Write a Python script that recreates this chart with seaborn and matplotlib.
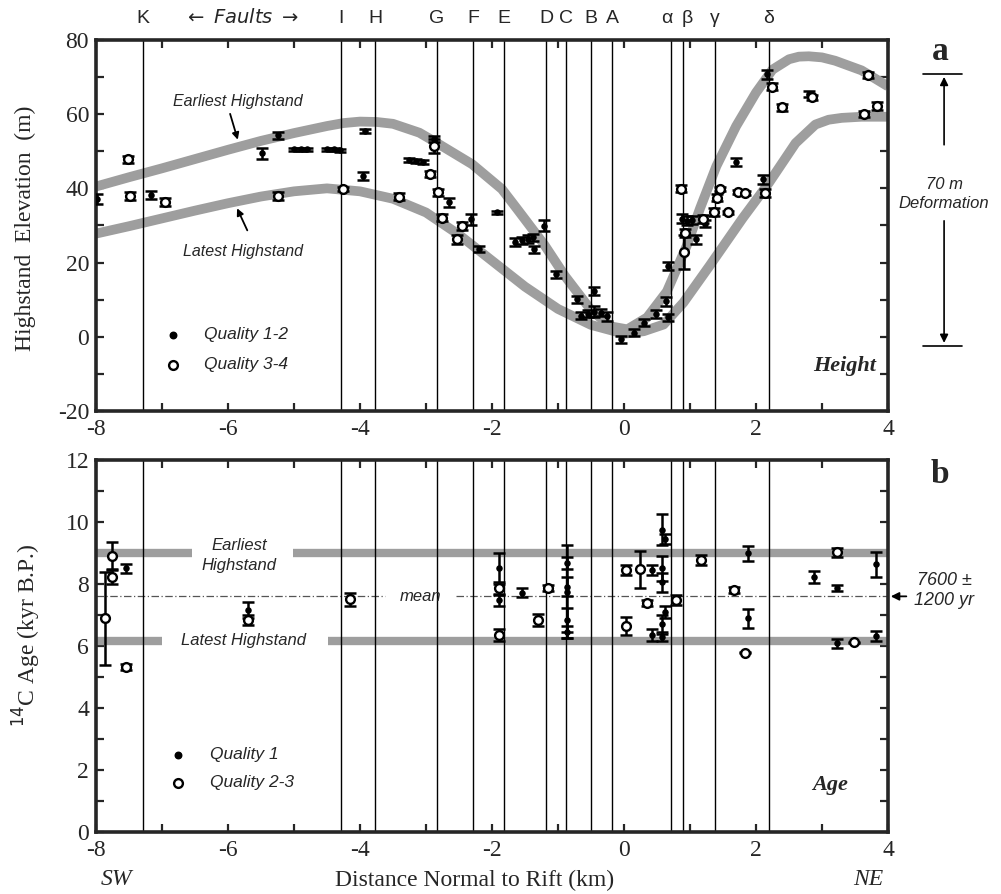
import matplotlib
matplotlib.use("Agg")
import matplotlib.pyplot as plt
from matplotlib.ticker import MultipleLocator
import seaborn as sns
import pandas as pd

# fault traces (km from rift axis) and their names along the top
fault_km = [-7.29, -4.29, -3.77, -2.84, -2.29, -1.82, -1.18, -0.88, -0.50, -0.18, 0.71, 0.90, 1.38, 2.19]
fault_names = ["K", "I", "H", "G", "F", "E", "D", "C", "B", "A", "α", "β", "γ", "δ"]

# highstand envelopes (panel a)
earliest_x = [-8.0, -7.5, -7.0, -6.5, -6.0, -5.5, -5.0, -4.5, -4.25, -4.0, -3.75, -3.5, -3.1, -2.85, -2.3,
              -1.85, -1.6, -1.2, -0.9, -0.5, -0.2, 0.05, 0.35, 0.65, 0.95, 1.15, 1.4, 1.7, 2.0, 2.25,
              2.5, 2.65, 2.8, 3.0, 3.2, 3.6, 4.0]
earliest_y = [40.5, 43.0, 45.4, 47.9, 50.4, 52.8, 54.9, 56.8, 57.6, 58.0, 57.9, 57.4, 55.0, 52.4, 46.5,
              39.8, 34.0, 24.6, 16.5, 7.2, 2.8, 2.0, 5.2, 12.2, 24.5, 34.5, 46.0, 56.8, 65.8, 72.0,
              74.8, 75.5, 75.6, 75.3, 74.4, 71.8, 67.5]
latest_x = [-8.0, -7.5, -7.0, -6.5, -6.0, -5.5, -5.0, -4.5, -4.0, -3.5, -3.0, -2.5, -2.0, -1.5, -1.0,
            -0.5, 0.0, 0.3, 0.6, 0.9, 1.3, 1.8, 2.2, 2.6, 2.9, 3.1, 3.3, 3.6, 4.0]
latest_y = [27.8, 29.8, 31.9, 34.0, 36.0, 37.8, 39.2, 40.0, 39.2, 37.2, 33.5, 27.5, 20.5, 13.5, 7.5,
            3.2, 0.8, 1.5, 3.3, 9.2, 19.2, 32.0, 41.6, 52.2, 57.2, 58.5, 59.0, 59.3, 59.3]

# panel a: highstand elevations (m)
a_q12_km = [-7.98, -7.16, -5.48, -5.24, -5.0, -4.9, -4.8, -4.5, -4.4, -4.3, -3.96, -3.92, -3.25, -3.15, -3.05,
            -2.88, -2.65, -2.32, -2.2, -1.92, -1.65, -1.55, -1.45, -1.38, -1.36, -1.21, -1.03, -0.71, -0.45,
            -0.65, -0.55, -0.45, -0.35, -0.25, -0.05, 0.15, 0.3, 0.48, 0.63, 0.66, 0.66, 0.88, 0.95, 1.03,
            1.09, 1.22, 1.70, 2.11, 2.17, 2.80]
a_q12_m = [37.2, 38.2, 49.4, 54.3, 50.5, 50.5, 50.5, 50.5, 50.5, 50.3, 43.3, 55.5, 47.6, 47.4, 47.2,
           53.3, 36.2, 31.7, 23.6, 33.5, 25.6, 26.0, 26.3, 26.8, 23.6, 29.9, 16.8, 10.1, 12.3,
           5.7, 6.2, 6.8, 6.5, 5.5, -0.7, 1.1, 3.8, 6.1, 9.6, 19.1, 5.2, 31.8, 31.3, 31.5,
           26.3, 30.5, 47.1, 42.5, 70.8, 65.4]
a_q12_err = [1.3, 1.2, 1.5, 1.0, 0.4, 0.4, 0.4, 0.4, 0.4, 0.4, 1.0, 0.5, 0.5, 0.5, 0.5,
             0.8, 1.2, 1.5, 0.8, 0.5, 1.0, 1.0, 1.0, 1.0, 1.0, 1.5, 1.0, 1.0, 1.0,
             1.0, 1.0, 1.5, 1.0, 1.2, 1.0, 1.0, 1.0, 1.0, 1.2, 1.0, 1.0, 1.2, 1.2, 1.0,
             1.2, 1.0, 1.2, 1.2, 1.2, 0.8]
a_q34_km = [-7.52, -7.49, -6.95, -5.24, -4.26, -3.41, -2.88, -2.94, -2.82, -2.75, -2.53, -2.45,
            0.87, 0.92, 0.91, 1.19, 1.36, 1.41, 1.46, 1.57, 1.72, 1.84, 2.14, 2.25, 2.40, 2.85, 3.70, 3.64, 3.84]
a_q34_m = [47.8, 37.9, 36.3, 37.9, 39.8, 37.8, 51.4, 43.8, 38.9, 32.1, 26.3, 29.9,
           39.9, 28.0, 22.9, 31.7, 33.6, 37.5, 39.8, 33.5, 39.0, 38.7, 38.7, 67.4, 61.8, 64.5, 70.6, 60.0, 62.2]
a_q34_err = [1.0, 1.0, 1.0, 1.0, 0.5, 1.0, 2.0, 0.8, 1.0, 1.0, 1.2, 1.0,
             1.0, 1.0, 4.5, 1.0, 1.0, 1.0, 0.5, 0.5, 0.5, 0.5, 1.0, 1.0, 1.0, 0.8, 0.8, 0.8, 1.0]

# panel b: 14C ages (kyr B.P.)
b_q1_km = [-7.55, -5.70, -1.89, -1.89, -1.54, -0.86, -0.86, -0.86, -0.86, -0.86, 0.43, 0.42,
           0.58, 0.62, 0.58, 0.58, 0.62, 0.58, 0.58, 1.88, 1.88, 2.88, 3.23, 3.23, 3.82, 3.82]
b_q1_age = [8.5, 7.16, 8.5, 7.48, 7.72, 8.67, 7.91, 7.75, 6.84, 6.46, 8.45, 6.35,
            9.75, 9.45, 8.5, 8.05, 7.1, 6.7, 6.3, 8.99, 6.89, 8.22, 7.86, 6.09, 8.63, 6.32]
b_q1_err = [0.15, 0.25, 0.5, 0.2, 0.15, 0.2, 0.3, 1.5, 0.4, 0.2, 0.15, 0.2,
            0.5, 0.15, 0.4, 0.3, 0.2, 0.3, 0.15, 0.25, 0.3, 0.2, 0.1, 0.15, 0.4, 0.15]
b_q23_km = [-7.75, -7.75, -7.86, -7.55, -5.70, -4.15, -1.89, -1.89, -1.31, -1.15, 0.03, 0.03,
            0.25, 0.35, 0.79, 1.16, 1.67, 1.84, 3.23, 3.48]
b_q23_age = [8.9, 8.24, 6.9, 5.33, 6.84, 7.5, 7.86, 6.35, 6.84, 7.86, 8.45, 6.65,
             8.47, 7.38, 7.48, 8.77, 7.81, 5.78, 9.02, 6.12]
b_q23_err = [0.45, 0.25, 1.5, 0.1, 0.15, 0.2, 0.2, 0.2, 0.2, 0.1, 0.15, 0.3,
             0.6, 0.1, 0.15, 0.15, 0.1, 0.02, 0.15, 0.02]

age_earliest = 9.0
age_latest = 6.15
age_mean = 7.6

sns.set_style("ticks")
SERIF = ["Liberation Serif", "DejaVu Serif"]
SANS = ["Liberation Sans", "DejaVu Sans"]
plt.rcParams["font.family"] = SERIF
plt.rcParams["axes.unicode_minus"] = False

BAND = "#9e9e9e"

fig = plt.figure(figsize=(10.01, 8.94), dpi=100)
ax_a = fig.add_axes([0.0959, 0.5403, 0.7912, 0.415])
ax_b = fig.add_axes([0.0959, 0.0694, 0.7912, 0.4161])


def style_axes(ax, ymaj, ymin):
    ax.set_xlim(-8, 4)
    ax.xaxis.set_major_locator(MultipleLocator(2))
    ax.xaxis.set_minor_locator(MultipleLocator(1))
    ax.yaxis.set_major_locator(MultipleLocator(ymaj))
    ax.yaxis.set_minor_locator(MultipleLocator(ymin))
    ax.tick_params(which="both", direction="in", top=True, right=True, width=1.6, length=6)
    ax.tick_params(which="major", labelsize=17, pad=5)
    ax.tick_params(axis="x", which="major", pad=6)
    for lab in ax.get_xticklabels() + ax.get_yticklabels():
        lab.set_fontfamily(SERIF)
    for sp in ax.spines.values():
        sp.set_linewidth(2.6)
    for xf in fault_km:
        ax.axvline(xf, color="k", lw=1.0, zorder=2)
    ax.set_xlabel("")
    ax.set_ylabel("")


def draw_points(ax, km, val, err, filled):
    df = pd.DataFrame({"km": km, "val": val, "err": err})
    ax.errorbar(df["km"], df["val"], yerr=df["err"], fmt="none", ecolor="k",
                elinewidth=1.8, capsize=4, capthick=1.8, zorder=3)
    if filled:
        sns.scatterplot(data=df, x="km", y="val", ax=ax, color="k", s=22,
                        linewidth=0, zorder=4)
    else:
        sns.scatterplot(data=df, x="km", y="val", ax=ax, color="white", edgecolor="k",
                        s=40, linewidth=1.7, zorder=4)


# ---------------- panel a ----------------
ax_a.set_ylim(-20, 80)
sns.lineplot(x=earliest_x, y=earliest_y, ax=ax_a, color=BAND, lw=7, sort=False,
             estimator=None, zorder=1, solid_capstyle="butt")
sns.lineplot(x=latest_x, y=latest_y, ax=ax_a, color=BAND, lw=7, sort=False,
             estimator=None, zorder=1, solid_capstyle="butt")
draw_points(ax_a, a_q12_km, a_q12_m, a_q12_err, True)
draw_points(ax_a, a_q34_km, a_q34_m, a_q34_err, False)
style_axes(ax_a, 20, 10)

ax_a.text(-5.85, 63.5, "Earliest Highstand", fontsize=11.5, style="italic", family=SANS,
          ha="center", va="center")
ax_a.annotate("", xy=(-5.84, 52.4), xytext=(-5.98, 60.8),
              arrowprops=dict(arrowstyle="-|>", color="k", lw=1.3, mutation_scale=10))
ax_a.text(-5.77, 23.0, "Latest Highstand", fontsize=11.5, style="italic", family=SANS,
          ha="center", va="center")
ax_a.annotate("", xy=(-5.88, 35.3), xytext=(-5.69, 28.0),
              arrowprops=dict(arrowstyle="-|>", color="k", lw=1.3, mutation_scale=10))

# legend a
ax_a.scatter([0.097], [0.205], transform=ax_a.transAxes, s=22, color="k", zorder=5)
ax_a.scatter([0.097], [0.124], transform=ax_a.transAxes, s=40, color="white",
             edgecolor="k", linewidth=1.7, zorder=5)
ax_a.text(0.137, 0.205, "Quality 1-2", transform=ax_a.transAxes, fontsize=12.5,
          style="italic", family=SANS, va="center")
ax_a.text(0.137, 0.124, "Quality 3-4", transform=ax_a.transAxes, fontsize=12.5,
          style="italic", family=SANS, va="center")
ax_a.text(0.985, 0.12, "Height", transform=ax_a.transAxes, fontsize=16, style="italic",
          weight="bold", ha="right", va="center")

# fault names on top (alpha / beta nudged apart so they do not touch)
label_nudge = {"α": -0.06, "β": 0.06}
for xf, nm in zip(fault_km, fault_names):
    ax_a.text(xf + label_nudge.get(nm, 0.0), 1.035, nm, transform=ax_a.get_xaxis_transform(),
              fontsize=14, family=SANS, ha="center", va="bottom")
ax_a.text(-5.8, 1.035, "$\\leftarrow$ $\\it{Faults}$ $\\rightarrow$",
          transform=ax_a.get_xaxis_transform(), fontsize=14, family=SANS,
          ha="center", va="bottom")

# 70 m deformation bar
for yv in [70.8, -2.4]:
    ax_a.plot([4.53, 5.12], [yv, yv], color="k", lw=1.2, clip_on=False)
ax_a.annotate("", xy=(4.85, 70.8), xytext=(4.85, 51.0), annotation_clip=False,
              arrowprops=dict(arrowstyle="-|>", color="k", lw=1.2, mutation_scale=12))
ax_a.annotate("", xy=(4.85, -2.4), xytext=(4.85, 32.0), annotation_clip=False,
              arrowprops=dict(arrowstyle="-|>", color="k", lw=1.2, mutation_scale=12))
ax_a.text(4.85, 38.5, "70 m\nDeformation", fontsize=12, style="italic", family=SANS,
          ha="center", va="center", linespacing=1.3, clip_on=False)

# ---------------- panel b ----------------
ax_b.set_ylim(0, 12)
band_segments_early = [(-8, -6.55), (-5.02, 4)]
band_segments_late = [(-8, -7.0), (-4.49, 4)]
for x0, x1 in band_segments_early:
    sns.lineplot(x=[x0, x1], y=[age_earliest, age_earliest], ax=ax_b, color=BAND, lw=6,
                 zorder=1, solid_capstyle="butt")
for x0, x1 in band_segments_late:
    sns.lineplot(x=[x0, x1], y=[age_latest, age_latest], ax=ax_b, color=BAND, lw=6,
                 zorder=1, solid_capstyle="butt")
for x0, x1 in [(-8, -3.62), (-2.55, 4)]:
    ax_b.plot([x0, x1], [age_mean, age_mean], color="#555555", lw=0.9,
              ls=(0, (6, 2, 1, 2)), zorder=1)
draw_points(ax_b, b_q1_km, b_q1_age, b_q1_err, True)
draw_points(ax_b, b_q23_km, b_q23_age, b_q23_err, False)
style_axes(ax_b, 2, 1)

ax_b.text(-5.83, 8.92, "Earliest\nHighstand", fontsize=12, style="italic", family=SANS,
          ha="center", va="center", linespacing=1.4)
ax_b.text(-5.76, 6.17, "Latest Highstand", fontsize=12, style="italic", family=SANS,
          ha="center", va="center")
ax_b.text(-3.08, 7.6, "mean", fontsize=12, style="italic", family=SANS,
          ha="center", va="center")

ax_b.scatter([0.104], [0.207], transform=ax_b.transAxes, s=22, color="k", zorder=5)
ax_b.scatter([0.104], [0.132], transform=ax_b.transAxes, s=40, color="white",
             edgecolor="k", linewidth=1.7, zorder=5)
ax_b.text(0.144, 0.207, "Quality 1", transform=ax_b.transAxes, fontsize=12.5,
          style="italic", family=SANS, va="center")
ax_b.text(0.144, 0.132, "Quality 2-3", transform=ax_b.transAxes, fontsize=12.5,
          style="italic", family=SANS, va="center")
ax_b.text(0.95, 0.126, "Age", transform=ax_b.transAxes, fontsize=16, style="italic",
          weight="bold", ha="right", va="center")

ax_b.annotate("", xy=(4.0, age_mean), xytext=(4.32, age_mean), annotation_clip=False,
              arrowprops=dict(arrowstyle="-|>", color="k", lw=1.3, mutation_scale=12))
ax_b.text(4.85, 7.8, "7600 ±\n1200 yr", fontsize=13, style="italic", family=SANS,
          ha="center", va="center", linespacing=1.25, clip_on=False)

# axis titles and panel letters
fig.text(0.025, 0.745, "Highstand  Elevation  (m)", rotation=90, fontsize=17,
         ha="center", va="center")
fig.text(0.027, 0.29, "$^{14}$C Age (kyr B.P.)", rotation=90, fontsize=17,
         ha="center", va="center")
fig.text(0.474, 0.0157, "Distance Normal to Rift (km)", fontsize=17,
         ha="center", va="center")
fig.text(0.116, 0.0157, "SW", fontsize=17, style="italic", ha="center", va="center")
fig.text(0.867, 0.0157, "NE", fontsize=17, style="italic", ha="center", va="center")
fig.text(0.939, 0.942, "a", fontsize=24, weight="bold", ha="center", va="center")
fig.text(0.939, 0.469, "b", fontsize=24, weight="bold", ha="center", va="center")

fig.savefig("out.png", dpi=100)
